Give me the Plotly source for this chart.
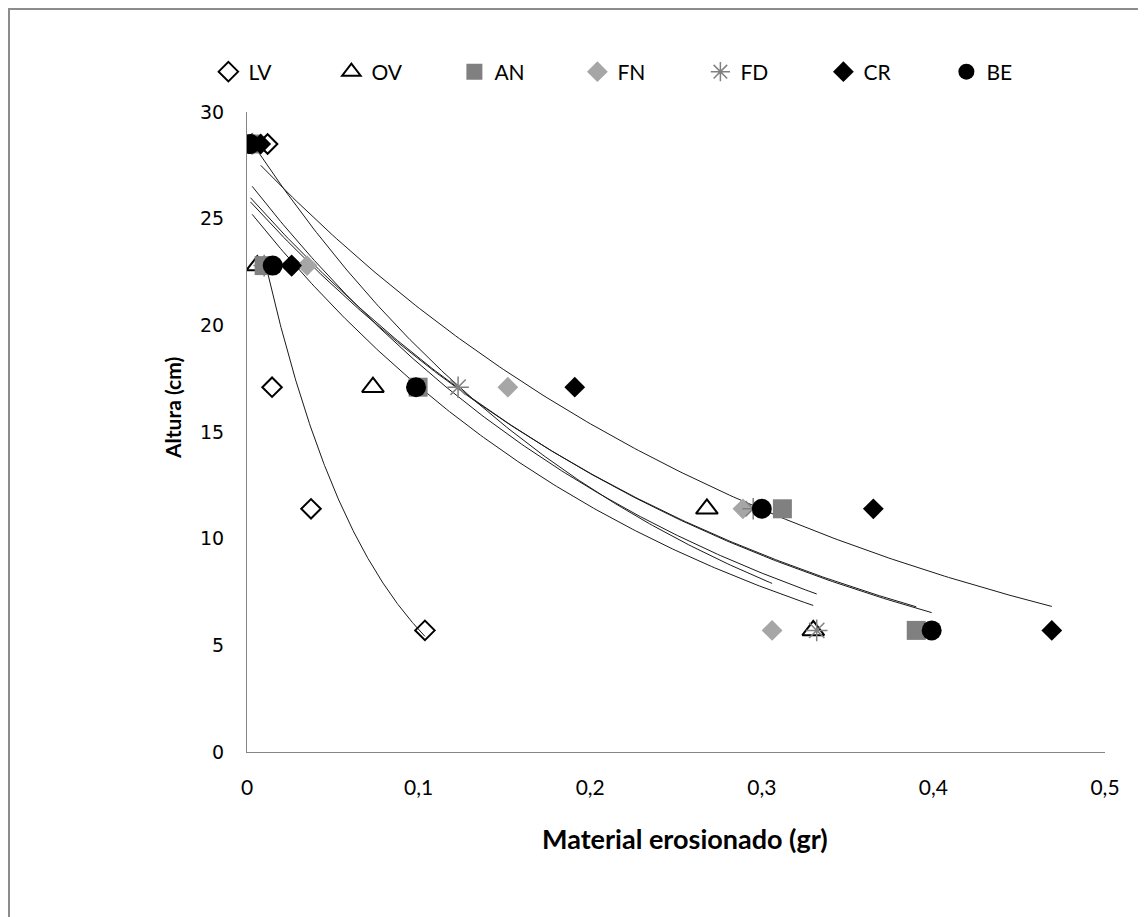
import numpy as np
import plotly.graph_objects as go

# Heights (cm)
altura = [28.5, 22.8, 17.1, 11.4, 5.7]

# Eroded material (gr) per series
series_names = ["LV", "OV", "AN", "FN", "FD", "CR", "BE"]
LV = [0.012, 0.026, 0.0146, 0.0373, 0.1037]
OV = [0.003, 0.006, 0.0734, 0.268, 0.330]
AN = [0.002, 0.010, 0.0997, 0.312, 0.390]
FN = [0.004, 0.035, 0.152, 0.289, 0.306]
FD = [0.003, 0.010, 0.123, 0.295, 0.332]
CR = [0.008, 0.026, 0.191, 0.365, 0.469]
BE = [0.002, 0.015, 0.0985, 0.300, 0.399]

data = {"LV": LV, "OV": OV, "AN": AN, "FN": FN, "FD": FD, "CR": CR, "BE": BE}

styles = {
    "LV": dict(symbol="diamond-open", size=15, color="black", line=dict(width=2, color="black")),
    "OV": dict(symbol="triangle-up-open", size=19, color="black", line=dict(width=2, color="black")),
    "AN": dict(symbol="square", size=19, color="#808080", line=dict(width=0)),
    "FN": dict(symbol="diamond", size=16, color="#a6a6a6", line=dict(width=0)),
    "FD": dict(symbol="asterisk-open", size=18, color="#808080", line=dict(width=1.5, color="#808080")),
    "CR": dict(symbol="diamond", size=16, color="black", line=dict(width=0)),
    "BE": dict(symbol="circle", size=20, color="black", line=dict(width=0)),
}

fig = go.Figure()

# Exponential trendlines (Excel-style: fit ln y = ln a + b x over each series' x range)
for name in series_names:
    xs = np.array(data[name])
    ys = np.array(altura)
    b, lna = np.polyfit(xs, np.log(ys), 1)
    xt = np.linspace(xs.min(), xs.max(), 200)
    fig.add_trace(go.Scatter(x=xt, y=np.exp(lna) * np.exp(b * xt), mode="lines",
                             line=dict(color="#1a1a1a", width=1),
                             showlegend=False, hoverinfo="skip"))

for name in series_names:
    s = styles[name]
    fig.add_trace(go.Scatter(x=data[name], y=altura, mode="markers", name=name,
                             marker=dict(symbol=s["symbol"], size=s["size"], color=s["color"],
                                         line=s["line"])))

font_main = "Lato, Liberation Sans, sans-serif"

# page body has an 8px offset; figure is sized so plot area lands at x 247-1105, y 112-752
fig.update_layout(
    width=1138, height=909,
    margin=dict(l=239, r=41, t=104, b=165),
    paper_bgcolor="white", plot_bgcolor="white",
    separators=",.",
    font=dict(family=font_main, size=20, color="black"),
    legend=dict(orientation="h", x=-0.045, xanchor="left", y=1.0625, yanchor="middle",
                entrywidth=78, entrywidthmode="pixels", itemwidth=30,
                font=dict(family=font_main, size=21, color="black"),
                bgcolor="rgba(0,0,0,0)"),
    xaxis=dict(range=[0, 0.5], dtick=0.1, tick0=0, showgrid=False, zeroline=False,
               showline=True, linecolor="#868686", linewidth=1, ticks="",
               ticklabelstandoff=17, tickfont=dict(family=font_main, size=21)),
    yaxis=dict(range=[0, 30], dtick=5, tick0=0, showgrid=False, zeroline=False,
               showline=True, linecolor="#868686", linewidth=1, ticks="",
               ticklabelstandoff=18, tickfont=dict(family="DejaVu Sans, sans-serif", size=19)),
    annotations=[
        dict(text="<b>Material erosionado (gr)</b>", xref="paper", yref="paper",
             x=(685 - 247) / 858, y=(752 - 838) / 640, xanchor="center", yanchor="middle",
             showarrow=False, font=dict(family=font_main, size=27)),
        dict(text="<b>Altura (cm)</b>", xref="paper", yref="paper", textangle=-90,
             x=(172 - 247) / 858, y=(752 - 408) / 640, xanchor="center", yanchor="middle",
             showarrow=False, font=dict(family=font_main, size=21)),
    ],
    shapes=[dict(type="rect", xref="paper", yref="paper",
                 x0=(9 - 247) / 858, x1=(1170 - 247) / 858,
                 y0=(752 - 950) / 640, y1=(752 - 9) / 640,
                 line=dict(color="#8c8c8c", width=2), layer="below")],
)

fig.write_html("out.html")
